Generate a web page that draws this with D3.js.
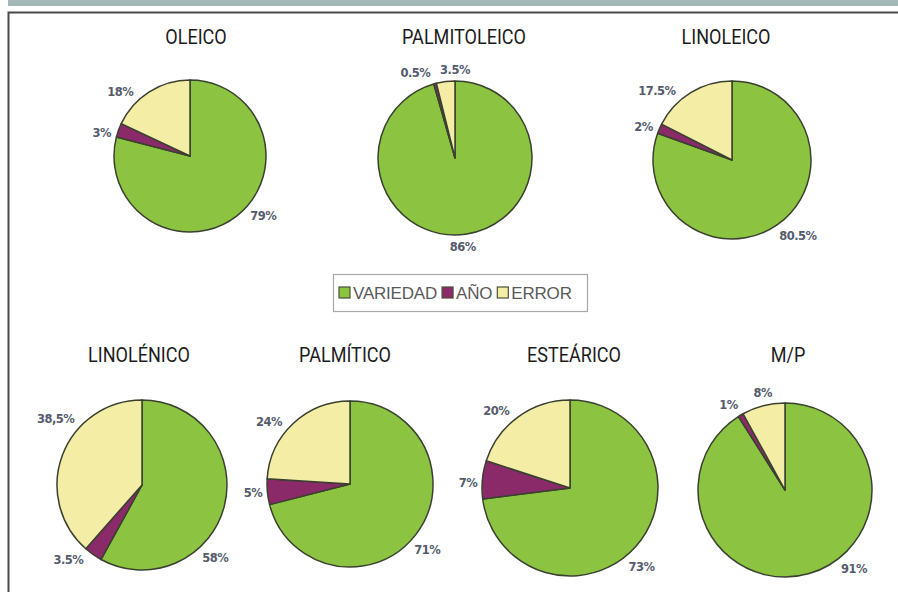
<!DOCTYPE html>
<html>
<head>
<meta charset="utf-8">
<script src="https://cdn.jsdelivr.net/npm/d3@7/dist/d3.min.js"></script>
<style>
  html, body { margin: 0; padding: 0; background: #ffffff; }
  svg { display: block; }
</style>
</head>
<body>
<svg id="chart" width="898" height="592"></svg>
<script>
// ---- DATA ----
const titles = ["OLEICO", "PALMITOLEICO", "LINOLEICO", "LINOLÉNICO", "PALMÍTICO", "ESTEÁRICO", "M/P"];
const seriesNames = ["VARIEDAD", "AÑO", "ERROR"];
const variedad = [79, 86, 80.5, 58, 71, 73, 91];
const anio     = [3, 0.5, 2, 3.5, 5, 7, 1];
const errorV   = [18, 3.5, 17.5, 38.5, 24, 20, 8];
const valueLabels = [
  ["79%", "3%", "18%"],
  ["86%", "0.5%", "3.5%"],
  ["80.5%", "2%", "17.5%"],
  ["58%", "3.5%", "38,5%"],
  ["71%", "5%", "24%"],
  ["73%", "7%", "20%"],
  ["91%", "1%", "8%"]
];

// ---- LAYOUT (positions / sizes, kept separate from data) ----
const layout = [
  { cx: 190, cy: 156, r: 76, tx: 196, ty: 44, nudge: [-12.7, -5, -15] },
  { cx: 455, cy: 158, r: 77, tx: 464, ty: 44, nudge: [3, -10, 7] },
  { cx: 732, cy: 160, r: 79, tx: 726, ty: 44, nudge: [-5.7, -2.7, -16] },
  { cx: 142, cy: 485, r: 85, tx: 139, ty: 362, nudge: [30.6, 9.5, 16.5] },
  { cx: 350, cy: 484, r: 83, tx: 345, ty: 362, nudge: [2.8, 0, -9.5] },
  { cx: 570, cy: 488, r: 88, tx: 574, ty: 362, nudge: [6.3, -2.6, -7.8] },
  { cx: 785, cy: 490, r: 87, tx: 788, ty: 362, nudge: [-24.9, -2.9, 1.6] }
];

const colors = d3.scaleOrdinal()
  .domain(seriesNames)
  .range(["#8cc441", "#8b2a68", "#f4eda6"]);

const svg = d3.select("#chart");

// top band + frame
svg.append("rect").attr("x", 8).attr("y", 0).attr("width", 890).attr("height", 6).attr("fill", "#a1b8b5");
svg.append("path")
  .attr("d", "M8.5,592 L8.5,12.5 L898,12.5")
  .attr("fill", "none").attr("stroke", "#4a4a4a").attr("stroke-width", 2);

const pie = d3.pie().sort(null).value(d => d.value).startAngle(0).endAngle(2 * Math.PI);

titles.forEach((title, i) => {
  const L = layout[i];
  const vals = [variedad[i], anio[i], errorV[i]];
  const data = seriesNames.map((s, k) => ({ series: s, value: vals[k], label: valueLabels[i][k] }));
  const arcs = pie(data);
  const arc = d3.arc().innerRadius(0).outerRadius(L.r);

  const g = svg.append("g").attr("transform", `translate(${L.cx},${L.cy})`);
  g.selectAll("path.slice")
    .data(arcs)
    .join("path")
    .attr("class", "slice")
    .attr("d", arc)
    .attr("fill", d => colors(d.data.series))
    .attr("stroke", "#3a4030")
    .attr("stroke-width", 1.5)
    .attr("stroke-linejoin", "round");

  // labels
  arcs.forEach((a, k) => {
    const ang = (a.startAngle + a.endAngle) / 2 + L.nudge[k] * Math.PI / 180;
    const ux = Math.sin(ang), uy = -Math.cos(ang);
    const t = g.append("text")
      .attr("text-anchor", "middle")
      .attr("dominant-baseline", "central")
      .attr("font-family", "'DejaVu Sans', Verdana, sans-serif")
      .attr("font-weight", "bold")
      .attr("font-size", 11.5)
      .attr("fill", "#555b6c")
      .attr("letter-spacing", -0.5)
      .text(a.data.label);
    const bb = t.node().getBBox();
    const ext = Math.abs(ux) * bb.width / 2 + Math.abs(uy) * bb.height / 2;
    const d = L.r + 4 + ext;
    t.attr("x", ux * d).attr("y", uy * d);
  });

  // title
  svg.append("text")
    .attr("transform", `translate(${L.tx},${L.ty}) scale(0.86,1)`)
    .attr("text-anchor", "middle")
    .attr("font-family", "Roboto, 'DejaVu Sans', sans-serif")
    .attr("font-size", 21)
    .attr("fill", "#1c1c1c")
    .text(title);
});

// legend
const lg = svg.append("g");
lg.append("rect").attr("x", 333.5).attr("y", 274.5).attr("width", 254).attr("height", 37)
  .attr("fill", "#ffffff").attr("stroke", "#a8a8a8").attr("stroke-width", 1.2);
let lx = 339;
seriesNames.forEach(s => {
  lg.append("rect").attr("x", lx).attr("y", 287).attr("width", 11).attr("height", 11)
    .attr("fill", colors(s)).attr("stroke", "#4a5038").attr("stroke-width", 1.2);
  const t = lg.append("text")
    .attr("x", lx + 14).attr("y", 299)
    .attr("font-family", "'Liberation Sans', Arial, sans-serif")
    .attr("font-size", 17)
    .attr("fill", "#5a5a5a")
    .attr("letter-spacing", -0.2)
    .text(s);
  lx += 14 + t.node().getComputedTextLength() + 5;
});
</script>
</body>
</html>
